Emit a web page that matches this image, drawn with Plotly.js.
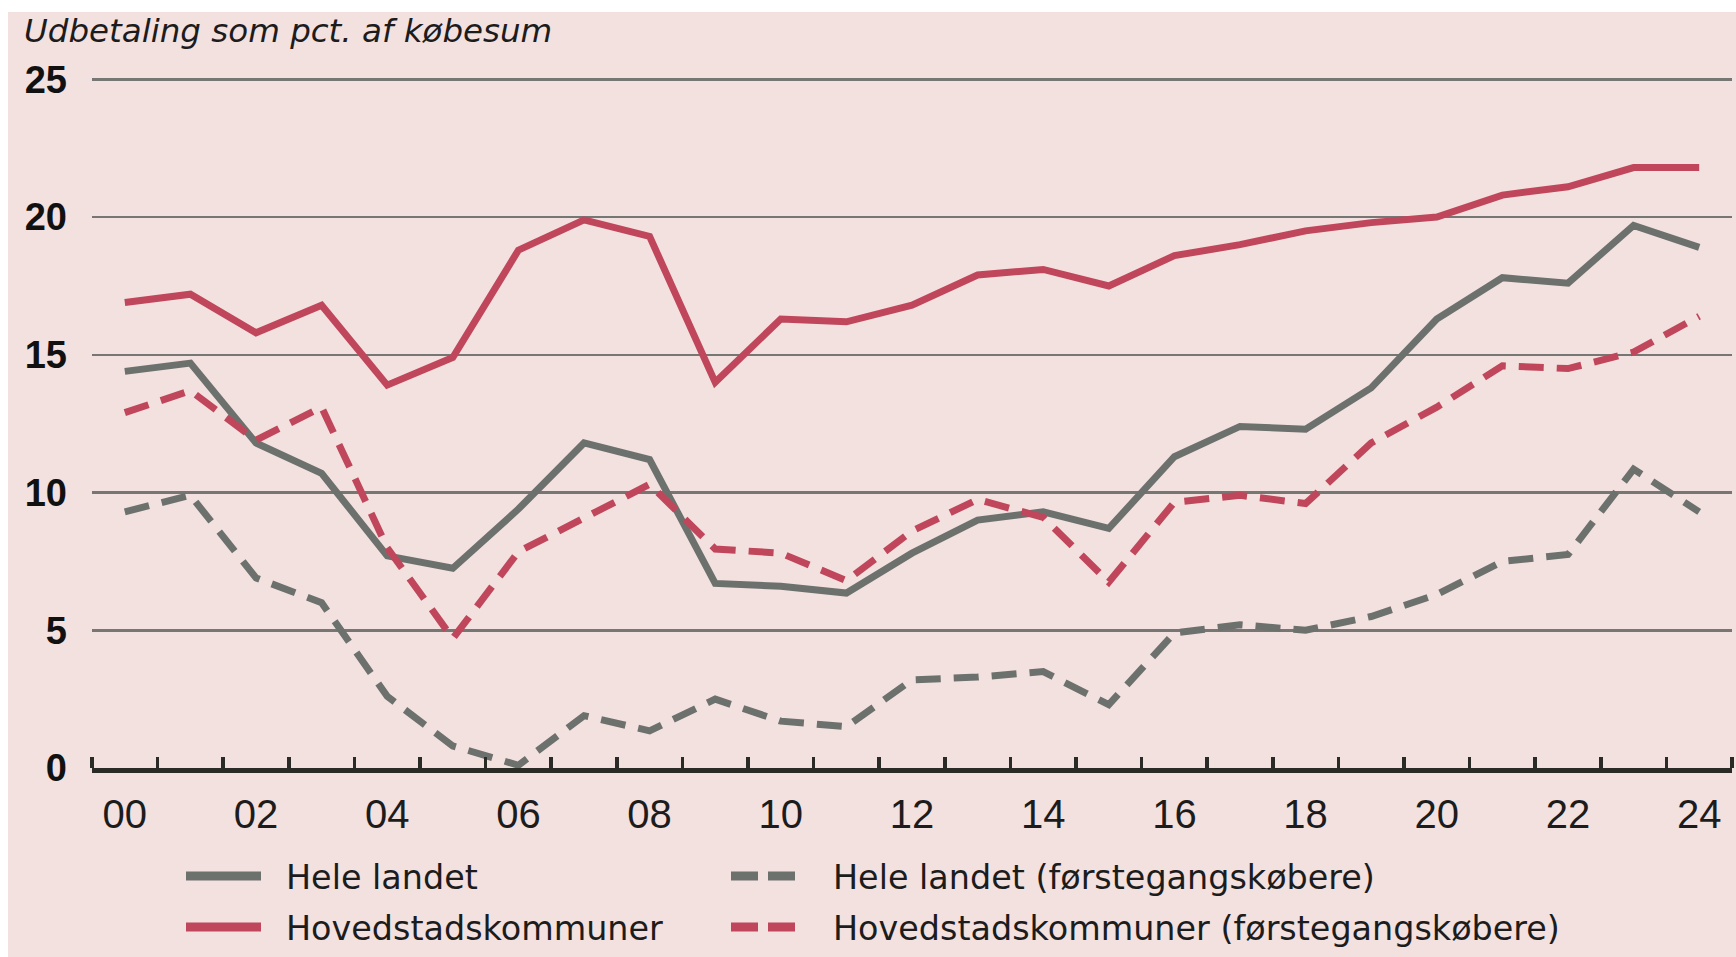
<!DOCTYPE html>
<html>
<head>
<meta charset="utf-8">
<script src="https://cdn.plot.ly/plotly-3.0.1.min.js"></script>
<style>
  html, body { margin: 0; padding: 0; background: #ffffff; width: 1736px; height: 957px; overflow: hidden; }
  #chart { position: absolute; left: 8px; top: 12px; width: 1728px; height: 945px; }
</style>
</head>
<body>
<div id="chart"></div>
<script>
// ---- data ----
const years = [0,1,2,3,4,5,6,7,8,9,10,11,12,13,14,15,16,17,18,19,20,21,22,23,24];
const tickYears = [0,2,4,6,8,10,12,14,16,18,20,22,24];
const tickLabels = ["00","02","04","06","08","10","12","14","16","18","20","22","24"];
const yTicks = [0,5,10,15,20,25];

const heleLandet = [14.4,14.7,11.8,10.7,7.7,7.25,9.4,11.8,11.2,6.7,6.6,6.35,7.8,9.0,9.3,8.7,11.3,12.4,12.3,13.8,16.3,17.8,17.6,19.7,18.9];
const hovedstad = [16.9,17.2,15.8,16.8,13.9,14.9,18.8,19.9,19.3,14.0,16.3,16.2,16.8,17.9,18.1,17.5,18.6,19.0,19.5,19.8,20.0,20.8,21.1,21.8,21.8];
const heleLandetF = [9.3,9.9,6.9,6.0,2.6,0.8,0.1,1.9,1.35,2.5,1.7,1.5,3.2,3.3,3.5,2.3,4.9,5.2,5.0,5.5,6.3,7.5,7.75,10.85,9.3];
const hovedstadF = [12.9,13.7,11.9,13.1,8.0,4.7,7.85,9.1,10.3,7.95,7.8,6.8,8.6,9.75,9.1,6.75,9.65,9.9,9.6,11.8,13.1,14.6,14.5,15.1,16.4];

const names = ["Hele landet", "Hovedstadskommuner", "Hele landet (førstegangskøbere)", "Hovedstadskommuner (førstegangskøbere)"];

// ---- style ----
const GRAY = "#6d716d";
const RED = "#c0475b";
const BG = "#f3e1e0";
const TXT = "#1c1c1c";
const W = 1728, H = 945;
const M = {l: 84, r: 4, t: 65.5, b: 189};
const plotW = W - M.l - M.r, plotH = H - M.t - M.b;
const DASH = "25px,13px";

function line(y, color, dash, name) {
  return { x: years, y: y, type: "scatter", mode: "lines", name: name,
    line: { color: color, width: 7, dash: dash }, hoverinfo: "skip" };
}
const traces = [
  line(heleLandetF, GRAY, DASH, names[2]),
  line(heleLandet, GRAY, "solid", names[0]),
  line(hovedstadF, RED, DASH, names[3]),
  line(hovedstad, RED, "solid", names[1])
];

// page-pixel (relative to div) -> paper coords
const px = v => (v - M.l) / plotW;
const py = v => (H - M.b - v) / plotH;

// custom legend
const legendRows = [876 - 12, 927 - 12];
const legendItems = [
  {x0: 178, x1: 253, tx: 276, row: 0, color: GRAY, dash: "solid", name: names[0]},
  {x0: 178, x1: 253, tx: 276, row: 1, color: RED, dash: "solid", name: names[1]},
  {x0: 723, x1: 787, tx: 823, row: 0, color: GRAY, dash: "27px,10px", name: names[2]},
  {x0: 723, x1: 787, tx: 823, row: 1, color: RED, dash: "27px,10px", name: names[3]}
];
const shapes = legendItems.map(it => ({
  type: "line", xref: "paper", yref: "paper",
  x0: px(it.x0), x1: px(it.x1), y0: py(legendRows[it.row]), y1: py(legendRows[it.row]),
  line: { color: it.color, width: 9, dash: it.dash }
}));
const annotations = legendItems.map(it => ({
  xref: "paper", yref: "paper", x: px(it.tx), y: py(legendRows[it.row] + 2),
  xanchor: "left", yanchor: "middle", showarrow: false, text: it.name,
  font: { family: "DejaVu Sans", size: 33.4, color: TXT }
}));

const layout = {
  width: W, height: H,
  paper_bgcolor: BG, plot_bgcolor: BG,
  margin: M,
  showlegend: false,
  title: {
    text: "Udbetaling som pct. af købesum",
    xref: "container", yref: "container", x: 16 / W, xanchor: "left",
    y: 1 - 19 / H, yanchor: "middle",
    font: { family: "DejaVu Sans", size: 32.5, style: "italic", color: TXT }
  },
  xaxis: {
    range: [-0.5, 24.5], fixedrange: true,
    tickmode: "array", tickvals: tickYears, ticktext: tickLabels,
    ticks: "", showgrid: false, zeroline: false,
    showline: true, linecolor: "#2a2a27", linewidth: 4.5,
    ticklabelstandoff: 7,
    tickfont: { family: "Liberation Sans", size: 40, color: TXT },
    minor: { tickmode: "array", tickvals: years.map(v => v - 0.5).concat([24.5]),
      ticks: "inside", ticklen: 11, tickwidth: 3.5, tickcolor: "#2a2a27", showgrid: false }
  },
  yaxis: {
    range: [0, 25.05], fixedrange: true,
    tickmode: "array", tickvals: yTicks, ticktext: yTicks.map(String),
    ticks: "", showgrid: true, gridcolor: "#767674", gridwidth: 2.5,
    zeroline: false, showline: false,
    ticklabelstandoff: 24,
    tickfont: { family: "Liberation Sans", size: 38, weight: "bold", color: "#111" }
  },
  shapes: shapes,
  annotations: annotations
};

Plotly.newPlot("chart", traces, layout, { staticPlot: true, displayModeBar: false });
</script>
</body>
</html>
